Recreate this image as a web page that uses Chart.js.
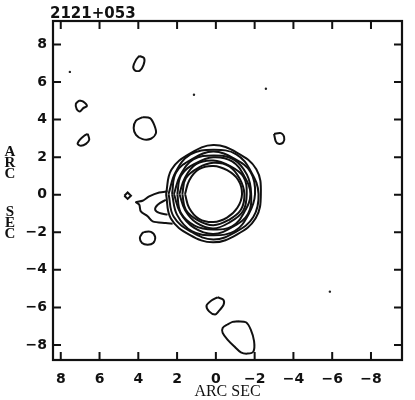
<!DOCTYPE html>
<html>
<head>
<meta charset="utf-8">
<script src="https://cdn.jsdelivr.net/npm/chart.js@4/dist/chart.umd.min.js"></script>
<style>
  html, body { margin:0; padding:0; background:#fff; }
  #wrap { width:415px; height:400px; position:relative; }
</style>
</head>
<body>
<div id="wrap"><canvas id="c" width="415" height="400"></canvas></div>
<script>
// ---- data (arc sec, x grows to the left) ----------------------------------
const plotTitle = "2121+053";
const axisLabel = "ARC SEC";
const xTicks = [8, 6, 4, 2, 0, -2, -4, -6, -8];
const yTicks = [8, 6, 4, 2, 0, -2, -4, -6, -8];

// central source: concentric contours, radius read every 30 degrees
const ringCenter = [0.13, 0.04];
const ringAngles = [0, 30, 60, 90, 120, 150, 180, 210, 240, 270, 300, 330];
const ringRadii = [
  [1.46, 1.43, 1.48, 1.45, 1.42, 1.47, 1.48, 1.43, 1.41, 1.45, 1.48, 1.44],
  [1.60, 1.64, 1.56, 1.61, 1.65, 1.57, 1.60, 1.64, 1.56, 1.62, 1.58, 1.64],
  [1.75, 1.69, 1.78, 1.73, 1.68, 1.79, 1.72, 1.77, 1.69, 1.78, 1.73, 1.68],
  [1.86, 1.92, 1.83, 1.90, 1.94, 1.84, 1.91, 1.85, 1.93, 1.83, 1.90, 1.94],
  [2.03, 1.96, 2.06, 1.99, 2.07, 2.00, 1.95, 2.06, 1.97, 2.07, 2.01, 1.96],
  [2.13, 2.22, 2.11, 2.19, 2.12, 2.23, 2.15, 2.10, 2.21, 2.13, 2.22, 2.16],
  [2.31, 2.25, 2.36, 2.28, 2.37, 2.26, 2.33, 2.38, 2.28, 2.35, 2.26, 2.36],
  [2.44, 2.50, 2.41, 2.53, 2.46, 2.56, 2.45, 2.52, 2.42, 2.50, 2.44, 2.53]
];

// extension to the east of the core (open lines that meet the rings)
const jetOuter = [[2.49,0.18],[2.92,0.12],[3.44,-0.09],[3.78,-0.32],[4.12,-0.39],[3.95,-0.53],
  [3.87,-0.89],[3.52,-1.15],[3.26,-1.42],[2.58,-1.51],[2.23,-1.54]];
const jetInner = [[2.58,-0.27],[3.00,-0.53],[3.13,-0.80],[2.92,-0.97],[2.49,-1.06]];

// isolated contours
const blobA = [[3.95,7.39],[3.70,7.27],[3.73,6.91],[3.92,6.61],[4.16,6.61],[4.26,6.82],[4.12,7.18]];
const blobB = [[7.05,5.02],[6.84,4.96],[6.65,4.73],[6.84,4.61],[7.01,4.43],[7.18,4.56],[7.22,4.84]];
const blobC = [[6.61,3.24],[6.53,2.93],[6.70,2.71],[6.96,2.61],[7.13,2.71],[7.01,2.93],[6.79,3.14]];
const blobD = [[3.78,4.13],[3.40,4.08],[3.18,3.72],[3.09,3.28],[3.35,2.98],[3.78,2.96],[4.12,3.19],[4.24,3.55],[4.12,3.95]];
const blobE = [[-3.00,3.24],[-3.35,3.28],[-3.52,3.07],[-3.47,2.78],[-3.23,2.71],[-3.09,2.84]];
const blobF = [[4.72,-0.05],[4.55,0.12],[4.38,-0.05],[4.55,-0.22]];
const blobG = [[3.70,-1.98],[3.35,-1.98],[3.13,-2.25],[3.23,-2.57],[3.52,-2.66],[3.81,-2.57],[3.92,-2.30],[3.81,-2.07]];
const blobH = [[-0.09,-5.46],[-0.38,-5.59],[-0.40,-5.85],[-0.14,-6.21],[0.04,-6.38],[0.35,-6.21],[0.48,-5.90],[0.21,-5.62]];
const blobI = [[-1.12,-6.74],[-1.55,-6.79],[-1.80,-7.18],[-1.97,-7.80],[-1.94,-8.34],[-1.63,-8.46],[-1.29,-8.39],
  [-0.94,-8.07],[-0.60,-7.71],[-0.35,-7.36],[-0.35,-7.09],[-0.60,-6.91],[-0.86,-6.77]];
const specks = [[-2.58,5.64],[-5.88,-5.16],[7.53,6.54],[1.13,5.32]];

// ---- helpers ---------------------------------------------------------------
const toPts = arr => arr.map(p => ({ x:p[0], y:p[1] }));
const closed = arr => toPts(arr.concat([arr[0]]));

function ringPts(radii){
  const pts = ringAngles.map((a, i) => {
    const t = a * Math.PI / 180;
    return { x: ringCenter[0] + radii[i] * Math.cos(t), y: ringCenter[1] + radii[i] * Math.sin(t) * 1.03 };
  });
  pts.push(pts[0]);
  return pts;
}

const contour = (data, tension) => ({
  data, showLine:true, borderColor:"#111", borderWidth:2,
  pointRadius:0, tension: tension ?? 0.35, fill:false
});

const datasets = [
  ...ringRadii.map(r => contour(ringPts(r), 0.4)),
  contour(toPts(jetOuter), 0.3),
  contour(toPts(jetInner), 0.3),
  ...[blobA, blobB, blobC, blobD, blobE, blobG, blobH, blobI].map(b => contour(closed(b), 0.3)),
  contour(closed(blobF), 0),
  { data: toPts(specks), showLine:false, pointRadius:1.2, pointBackgroundColor:"#222", pointBorderWidth:0 }
];

// ---- frame: border, inward ticks, title, stacked y label ------------------
const framePlugin = {
  id:"frame",
  afterDraw(chart){
    const { ctx, chartArea:a, scales } = chart;
    const L = 8;
    ctx.save();
    ctx.strokeStyle = "#111";
    ctx.lineWidth = 2.2;
    ctx.strokeRect(a.left, a.top, a.right - a.left, a.bottom - a.top);
    ctx.lineWidth = 2;
    ctx.beginPath();
    xTicks.forEach(v => {
      const px = scales.x.getPixelForValue(v);
      ctx.moveTo(px, a.bottom); ctx.lineTo(px, a.bottom - L);
      ctx.moveTo(px, a.top);    ctx.lineTo(px, a.top + L);
    });
    yTicks.forEach(v => {
      const py = scales.y.getPixelForValue(v);
      ctx.moveTo(a.left, py);  ctx.lineTo(a.left + L, py);
      ctx.moveTo(a.right, py); ctx.lineTo(a.right - L, py);
    });
    ctx.stroke();

    ctx.fillStyle = "#111";
    ctx.font = "bold 15px 'DejaVu Sans'";
    ctx.textBaseline = "alphabetic";
    ctx.textAlign = "left";
    ctx.fillText(plotTitle, 50, 18);

    // vertical label, one letter per line
    ctx.font = "bold 15px 'Liberation Serif'";
    ctx.textAlign = "center";
    ctx.textBaseline = "middle";
    const letters = axisLabel.split("");
    let y = 152;
    letters.forEach(ch => {
      if (ch === " ") { y += 27; return; }
      ctx.fillText(ch, 10, y);
      y += 11;
    });
    ctx.restore();
  }
};

const tickFont = { family:"DejaVu Sans", weight:"bold", size:14 };
const minus = v => (v < 0 ? "\u2212" + Math.abs(v) : String(v));

new Chart(document.getElementById("c"), {
  type:"scatter",
  data:{ datasets },
  options:{
    responsive:false, animation:false, devicePixelRatio:1,
    layout:{ padding:{ left:0, right:13, top:21, bottom:0 } },
    plugins:{ legend:{ display:false }, tooltip:{ enabled:false } },
    scales:{
      x:{
        type:"linear", reverse:true, min:-9.6, max:8.4,
        afterBuildTicks: s => { s.ticks = xTicks.map(v => ({ value:v })); },
        afterFit: s => { s.height = 40; },
        grid:{ display:false, drawTicks:false },
        border:{ display:false },
        ticks:{ color:"#111", font:tickFont, padding:11, maxRotation:0, callback: minus },
        title:{ display:true, text:axisLabel, color:"#111", padding:0,
                font:{ family:"Liberation Serif", size:16, lineHeight:1 } }
      },
      y:{
        type:"linear", min:-8.8, max:9.25,
        afterBuildTicks: s => { s.ticks = yTicks.map(v => ({ value:v })); },
        afterFit: s => { s.width = 53; },
        grid:{ display:false, drawTicks:false },
        border:{ display:false },
        ticks:{ color:"#111", font:tickFont, padding:6, callback: minus }
      }
    }
  },
  plugins:[framePlugin]
});
</script>
</body>
</html>
